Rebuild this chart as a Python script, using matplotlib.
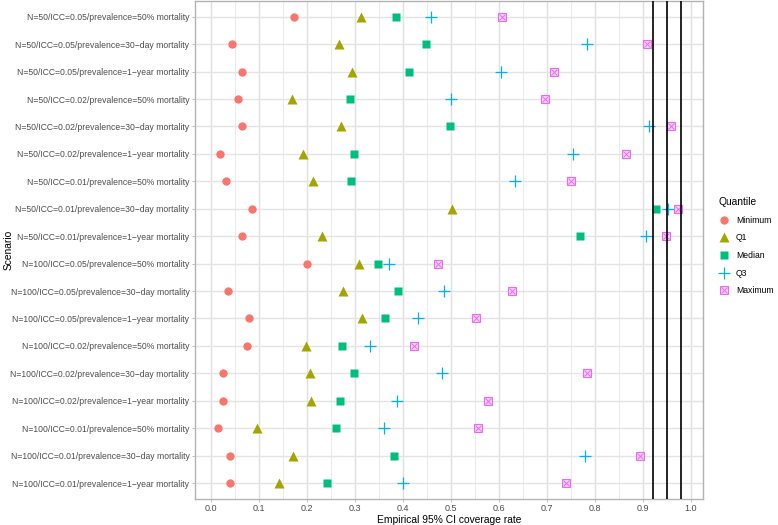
import matplotlib
matplotlib.use("Agg")
import matplotlib.pyplot as plt
from matplotlib.lines import Line2D
from matplotlib.legend_handler import HandlerTuple
import numpy as np

plt.rcParams['font.family'] = ['Liberation Sans', 'DejaVu Sans']

scenarios = [
    "N=50/ICC=0.05/prevalence=50% mortality",
    "N=50/ICC=0.05/prevalence=30\u2212day mortality",
    "N=50/ICC=0.05/prevalence=1\u2212year mortality",
    "N=50/ICC=0.02/prevalence=50% mortality",
    "N=50/ICC=0.02/prevalence=30\u2212day mortality",
    "N=50/ICC=0.02/prevalence=1\u2212year mortality",
    "N=50/ICC=0.01/prevalence=50% mortality",
    "N=50/ICC=0.01/prevalence=30\u2212day mortality",
    "N=50/ICC=0.01/prevalence=1\u2212year mortality",
    "N=100/ICC=0.05/prevalence=50% mortality",
    "N=100/ICC=0.05/prevalence=30\u2212day mortality",
    "N=100/ICC=0.05/prevalence=1\u2212year mortality",
    "N=100/ICC=0.02/prevalence=50% mortality",
    "N=100/ICC=0.02/prevalence=30\u2212day mortality",
    "N=100/ICC=0.02/prevalence=1\u2212year mortality",
    "N=100/ICC=0.01/prevalence=50% mortality",
    "N=100/ICC=0.01/prevalence=30\u2212day mortality",
    "N=100/ICC=0.01/prevalence=1\u2212year mortality",
]

minimum = [0.173, 0.044, 0.065, 0.055, 0.065, 0.019, 0.030, 0.085, 0.065,
           0.199, 0.035, 0.079, 0.074, 0.024, 0.024, 0.015, 0.040, 0.040]
q1 = [0.312, 0.267, 0.294, 0.168, 0.270, 0.192, 0.213, 0.501, 0.230,
      0.308, 0.274, 0.314, 0.197, 0.205, 0.208, 0.095, 0.171, 0.141]
median = [0.386, 0.447, 0.412, 0.290, 0.497, 0.298, 0.292, 0.926, 0.769,
          0.347, 0.390, 0.362, 0.272, 0.298, 0.268, 0.260, 0.381, 0.241]
q3 = [0.458, 0.784, 0.604, 0.499, 0.913, 0.753, 0.633, 0.951, 0.906,
      0.371, 0.485, 0.431, 0.330, 0.480, 0.387, 0.360, 0.780, 0.399]
maximum = [0.606, 0.908, 0.714, 0.695, 0.958, 0.864, 0.749, 0.972, 0.948,
           0.472, 0.626, 0.551, 0.422, 0.784, 0.576, 0.556, 0.894, 0.740]

ref_lines = [0.92, 0.95, 0.98]
xticks = [0.0, 0.1, 0.2, 0.3, 0.4, 0.5, 0.6, 0.7, 0.8, 0.9, 1.0]

colors = ["#F8766D", "#A3A500", "#00BF7D", "#00B0F6", "#E76BF3"]

fig = plt.figure(figsize=(7.78, 5.25), dpi=100)
ax = fig.add_axes([0.2506, 0.0495, 0.653, 0.9495])

n = len(scenarios)
ypos = np.arange(n)[::-1]  # top row first

# grid
minor = [x + 0.05 for x in xticks[:-1]]
for x in minor:
    ax.axvline(x, color="#E6E6E6", lw=0.6, zorder=0)
for x in xticks:
    ax.axvline(x, color="#E0E0E0", lw=1.0, zorder=0)
for y in ypos:
    ax.axhline(y, color="#E4E4E4", lw=1.0, zorder=0)

ax.plot(minimum, ypos, 'o', color=colors[0], ms=6, mec='none', zorder=3)
ax.plot(q1, ypos, '^', color=colors[1], ms=7, mec='none', zorder=3)
ax.plot(median, ypos, 's', color=colors[2], ms=5.5, mec='none', zorder=3)
ax.plot(q3, ypos, '+', color=colors[3], ms=9, mew=0.9, zorder=3)
ax.plot(maximum, ypos, 's', mfc='#F6D2F8', mec=colors[4], ms=5.5, mew=0.8, zorder=3)
ax.plot(maximum, ypos, 'x', color=colors[4], ms=4.0, mew=0.7, zorder=3)

for x in ref_lines:
    ax.axvline(x, color="black", lw=1.2, zorder=4)

ax.set_xlim(-0.034, 1.025)
ax.set_ylim(-0.58, n - 1 + 0.59)
ax.set_xticks(xticks)
ax.set_xticklabels([f"{x:.1f}" for x in xticks])
ax.set_yticks(ypos)
ax.set_yticklabels(scenarios)
ax.tick_params(axis='both', labelsize=6.2, labelcolor="#4D4D4D", length=2.5,
               width=0.6, color="#B3B3B3", pad=1.5)
ax.tick_params(axis='x', pad=0.8, labelsize=6.5)
for s in ax.spines.values():
    s.set_color("#B3B3B3")
    s.set_linewidth(1.0)

ax.set_xlabel("Empirical 95% CI coverage rate", fontsize=7.4)
ax.xaxis.set_label_coords(0.5, -0.0315)
ax.set_ylabel("Scenario", fontsize=7.4)
ax.yaxis.set_label_coords(-0.357, 0.5)

handles = [
    Line2D([], [], ls='none', marker='o', color=colors[0], ms=6, mec='none'),
    Line2D([], [], ls='none', marker='^', color=colors[1], ms=7, mec='none'),
    Line2D([], [], ls='none', marker='s', color=colors[2], ms=5.5, mec='none'),
    Line2D([], [], ls='none', marker='+', color=colors[3], ms=9, mew=0.9),
    (Line2D([], [], ls='none', marker='s', mfc='#F6D2F8', mec=colors[4], ms=5.5, mew=0.8),
     Line2D([], [], ls='none', marker='x', color=colors[4], ms=4.0, mew=0.7)),
]
labels = ["Minimum", "Q1", "Median", "Q3", "Maximum"]
leg = fig.legend(handles, labels, title="Quantile", loc='upper left',
                 bbox_to_anchor=(0.916, 0.636), frameon=False, fontsize=6.2,
                 title_fontsize=7.4, handlelength=1.2, handletextpad=0.8,
                 labelspacing=1.0, borderpad=0.2,
                 handler_map={tuple: HandlerTuple(ndivide=1, pad=0)})
leg._legend_box.align = "left"

fig.savefig("out.png", dpi=100)
